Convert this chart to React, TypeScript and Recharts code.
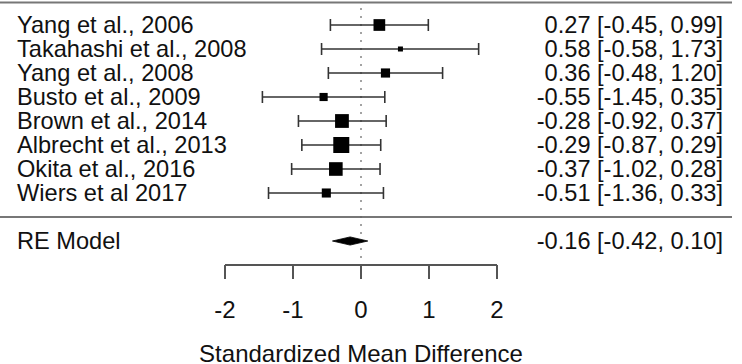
import React from 'react';
import { ScatterChart, Scatter, XAxis, YAxis, ErrorBar, ReferenceLine, LabelList } from 'recharts';

// ---- data ----
const studies = [
  'Yang et al., 2006',
  'Takahashi et al., 2008',
  'Yang et al., 2008',
  'Busto et al., 2009',
  'Brown et al., 2014',
  'Albrecht et al., 2013',
  'Okita et al., 2016',
  'Wiers et al 2017',
];
const estimates = [0.27, 0.58, 0.36, -0.55, -0.28, -0.29, -0.37, -0.51];
const ciLow = [-0.45, -0.58, -0.48, -1.45, -0.92, -0.87, -1.02, -1.36];
const ciHigh = [0.99, 1.73, 1.2, 0.35, 0.37, 0.29, 0.28, 0.33];

const modelLabel = 'RE Model';
const modelEst = -0.16;
const modelLow = -0.42;
const modelHigh = 0.1;

const xTicks = [-2, -1, 0, 1, 2];
const xTitle = 'Standardized Mean Difference';

// ---- layout constants ----
const W = 742;
const H = 364;
const FONT = '"Liberation Sans", Arial, sans-serif';
const X_DOMAIN: [number, number] = [-361 / 68, 381 / 68];
const Y_DOMAIN: [number, number] = [-3, 11];
const FIRST_ROW = 10;
const MODEL_ROW = 1;
const SEP_ROW = 2;
const TOP_ROW = 10.94;
const AXIS_ROW = 0;
const TICK_LEN = 0.58;
const DIAMOND_HALF = 0.17;
const MIN_SQ = 5;
const MAX_SQ = 16;
const LINE_RIGHT = 371 / 68;
const LEFT_X = 17;
const RIGHT_X = 723;
const TEXT_SIZE = 23.6;
const AXIS_TEXT_SIZE = 24;
const TEXT_COLOR = '#111';

const fmt = (v: number) => v.toFixed(2);
const ciText = (e: number, lo: number, hi: number) => `${fmt(e)} [${fmt(lo)}, ${fmt(hi)}]`;

// precision (1 / CI width) drives square size, as in metafor
const precision = ciLow.map((lo, i) => 1 / (ciHigh[i] - lo));
const pMin = Math.min(...precision);
const pMax = Math.max(...precision);

const studyData = studies.map((name, i) => ({
  x: estimates[i],
  y: FIRST_ROW - i,
  err: [estimates[i] - ciLow[i], ciHigh[i] - estimates[i]],
  prec: precision[i],
  name,
  summary: ciText(estimates[i], ciLow[i], ciHigh[i]),
}));

const modelSummary = ciText(modelEst, modelLow, modelHigh);
const diamondData = [
  { x: modelLow, y: MODEL_ROW, name: modelLabel, summary: modelSummary },
  { x: modelEst, y: MODEL_ROW + DIAMOND_HALF, name: '', summary: '' },
  { x: modelHigh, y: MODEL_ROW, name: '', summary: '' },
  { x: modelEst, y: MODEL_ROW - DIAMOND_HALF, name: '', summary: '' },
];

const centerY = (p: any) => {
  const vb = p.viewBox || {};
  const y = vb.y != null ? vb.y : p.y;
  const h = vb.height != null ? vb.height : p.height || 0;
  return y + h / 2;
};

const makeText = (x: number, anchor: 'start' | 'end') => (p: any) => {
  if (!p.value) return null;
  return (
    <text
      key={`${anchor}-${p.index}`}
      x={x}
      y={centerY(p) + 8}
      fontSize={TEXT_SIZE}
      fontFamily={FONT}
      fill={TEXT_COLOR}
      textAnchor={anchor}
    >
      {p.value}
    </text>
  );
};
const leftLabel = makeText(LEFT_X, 'start');
const rightLabel = makeText(RIGHT_X, 'end');

const XTick = (props: any) => {
  const { x, y, payload } = props;
  return (
    <g>
      <text x={x} y={y - 19} fontSize={AXIS_TEXT_SIZE} fontFamily={FONT} fill={TEXT_COLOR} textAnchor="middle">
        {payload.value}
      </text>
      {payload.value === 0 ? (
        <text x={x} y={y + 25} fontSize={AXIS_TEXT_SIZE} fontFamily={FONT} fill={TEXT_COLOR} textAnchor="middle">
          {xTitle}
        </text>
      ) : null}
    </g>
  );
};

const Square = (props: any) => {
  const { cx, cy, payload } = props;
  const s = MIN_SQ + ((payload.prec - pMin) / (pMax - pMin)) * (MAX_SQ - MIN_SQ);
  return <rect x={cx - s / 2} y={cy - s / 2} width={s} height={s} fill="#000" />;
};

const Nothing = () => <g />;

const DiamondLine = (props: any) => {
  const pts = (props.points || []).map((p: any) => `${p.x},${p.y}`).join(' ');
  return <polygon points={pts} fill="#000" stroke="#000" strokeWidth={0.8} />;
};

export default function App() {
  return (
    <div style={{ position: 'absolute', left: 0, top: 0, width: W, height: H, background: '#fff' }}>
      <ScatterChart width={W} height={H} margin={{ top: 1, right: 0, bottom: 0, left: 0 }}>
        <XAxis
          type="number"
          dataKey="x"
          domain={X_DOMAIN}
          allowDataOverflow
          ticks={xTicks}
          interval={0}
          axisLine={false}
          tickLine={false}
          tickSize={0}
          tickMargin={0}
          height={27}
          tick={<XTick />}
        />
        <YAxis yAxisId="l" type="number" dataKey="y" domain={Y_DOMAIN} allowDataOverflow hide />
        <ReferenceLine
          yAxisId="l"
          segment={[{ x: X_DOMAIN[0], y: TOP_ROW }, { x: LINE_RIGHT, y: TOP_ROW }]}
          stroke="#777"
          strokeWidth={2}
        />
        <ReferenceLine
          yAxisId="l"
          segment={[{ x: X_DOMAIN[0], y: SEP_ROW }, { x: LINE_RIGHT, y: SEP_ROW }]}
          stroke="#777"
          strokeWidth={2}
        />
        <ReferenceLine
          yAxisId="l"
          segment={[{ x: 0, y: 0.3 }, { x: 0, y: 10.7 }]}
          stroke="#666"
          strokeWidth={1.6}
          strokeDasharray="1.6 6.4"
        />
        <ReferenceLine
          yAxisId="l"
          segment={[{ x: xTicks[0], y: AXIS_ROW }, { x: xTicks[xTicks.length - 1], y: AXIS_ROW }]}
          stroke="#555"
          strokeWidth={2}
        />
        {xTicks.map((t) => (
          <ReferenceLine
            key={t}
            yAxisId="l"
            segment={[{ x: t, y: AXIS_ROW }, { x: t, y: AXIS_ROW - TICK_LEN }]}
            stroke="#555"
            strokeWidth={2}
          />
        ))}
        <Scatter yAxisId="l" data={studyData} shape={<Square />} isAnimationActive={false}>
          <ErrorBar dataKey="err" direction="x" width={6} stroke="#333" strokeWidth={1.6} />
          <LabelList dataKey="name" content={leftLabel} />
          <LabelList dataKey="summary" content={rightLabel} />
        </Scatter>
        <Scatter
          yAxisId="l"
          data={diamondData}
          shape={<Nothing />}
          line={<DiamondLine />}
          isAnimationActive={false}
        >
          <LabelList dataKey="name" content={leftLabel} />
          <LabelList dataKey="summary" content={rightLabel} />
        </Scatter>
      </ScatterChart>
    </div>
  );
}
